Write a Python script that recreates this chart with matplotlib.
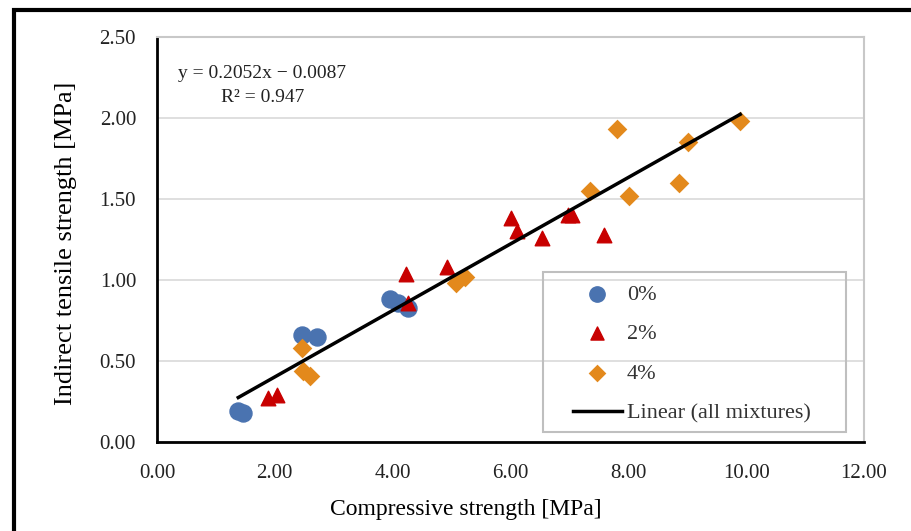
import matplotlib.pyplot as plt
from matplotlib.patches import Rectangle

plt.rcParams["font.family"] = ["Liberation Serif", "DejaVu Serif"]

# compressive strength [MPa] / indirect tensile strength [MPa]
x_0 = [1.38, 1.46, 2.47, 2.72, 3.96, 4.09, 4.26]
y_0 = [0.19, 0.18, 0.66, 0.65, 0.88, 0.86, 0.83]

x_2 = [1.89, 2.03, 4.23, 4.26, 4.92, 6.01, 6.11, 6.54, 6.98, 7.04, 7.59]
y_2 = [0.27, 0.29, 1.04, 0.86, 1.08, 1.38, 1.30, 1.26, 1.40, 1.40, 1.28]

x_4 = [2.46, 2.48, 2.60, 5.08, 5.23, 7.35, 7.81, 8.01, 8.86, 9.02, 9.90]
y_4 = [0.58, 0.44, 0.41, 0.98, 1.02, 1.55, 1.93, 1.52, 1.60, 1.85, 1.98]

slope = 0.2052
intercept = -0.0087
r2 = 0.947

fig = plt.figure(figsize=(9.12, 5.31), dpi=100)
ax = fig.add_axes([0.1721, 0.1676, 0.7752, 0.7627])

ax.scatter(x_0, y_0, s=150, marker="o", color="#4a73b0", label="0%", zorder=3)
ax.scatter(x_2, y_2, s=110, marker="^", color="#c80000", label="2%", zorder=3)
ax.scatter(x_4, y_4, s=100, marker="D", color="#e3891c", label="4%", zorder=3,
           linewidths=0)

all_x = x_0 + x_2 + x_4
x_fit = [min(all_x), max(all_x)]
y_fit = [slope * v + intercept for v in x_fit]
ax.plot(x_fit, y_fit, color="black", lw=2.5, label="Linear (all mixtures)", zorder=4)

ax.set_xlim(0, 12)
ax.set_ylim(0, 2.5)
ax.set_xticks([0, 2, 4, 6, 8, 10, 12])
ax.set_yticks([0, 0.5, 1.0, 1.5, 2.0, 2.5])
ax.set_xticklabels([f"{v:.2f}" for v in ax.get_xticks()])
ax.set_yticklabels([f"{v:.2f}" for v in ax.get_yticks()])
ax.tick_params(length=0, labelsize=15, colors="#222222")
ax.tick_params(axis="x", pad=16)
ax.tick_params(axis="y", pad=15)
ax.grid(axis="y", color="#d9d9d9", lw=1.2)
ax.set_axisbelow(True)

for side in ["top", "right"]:
    ax.spines[side].set_color("#c8c8c8")
    ax.spines[side].set_linewidth(1.5)
for side in ["left", "bottom"]:
    ax.spines[side].set_color("black")
    ax.spines[side].set_linewidth(2)

ax.set_xlabel("Compressive strength [MPa]", fontsize=17)
ax.set_ylabel("Indirect tensile strength [MPa]", fontsize=19)
ax.xaxis.set_label_coords(0.437, -0.14)
ax.yaxis.set_label_coords(-0.113, 0.491)

ax.text(0.149, 0.88, f"y = {slope:.4f}x \u2212 {abs(intercept):.4f}\nR\u00b2 = {r2:.3f}",
        transform=ax.transAxes, ha="center", va="center", fontsize=14,
        linespacing=1.5, color="#222222")

leg = ax.legend(loc="upper left", bbox_to_anchor=(0.588, 0.39), fontsize=16,
                frameon=False, labelspacing=0.86, handlelength=2.2,
                handletextpad=0.23, borderpad=0, borderaxespad=0,
                markerscale=0.9)
for t in leg.get_texts():
    t.set_color("#333333")
ax.add_patch(Rectangle((0.546, 0.0247), 0.4286, 0.395, transform=ax.transAxes,
                       fill=False, edgecolor="#bfbfbf", lw=1.5, zorder=5))

fig.patches.append(Rectangle((14 / 912, -0.1), 1.2, 1 - 10 / 531 + 0.1,
                             transform=fig.transFigure, fill=False,
                             edgecolor="black", lw=3))

fig.savefig("out.png", dpi=100)
